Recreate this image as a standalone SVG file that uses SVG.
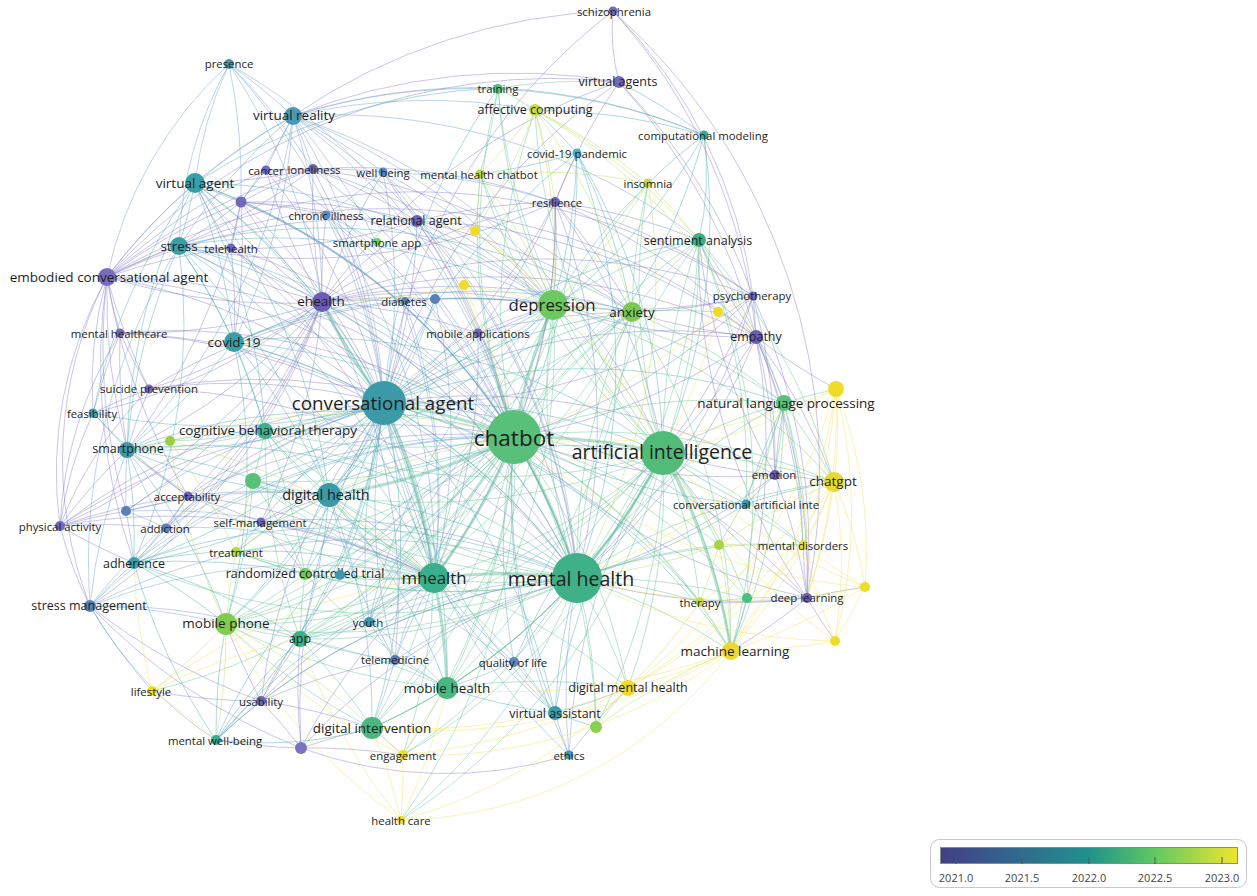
<svg xmlns="http://www.w3.org/2000/svg" width="1257" height="896" viewBox="0 0 1257 896">
<style>
.e path{fill:none;stroke-width:1;stroke-opacity:.42}
.p path{stroke:#8078c4}
.b path{stroke:#6a98c8}
.t path{stroke:#40a8b0}
.g path{stroke:#5cc08c}
.y path{stroke:#b8dc50}
.Y path{stroke:#f0e050}
.h path{stroke:#50b890;stroke-width:3;stroke-opacity:.42}
text{font-family:"Open Sans","Liberation Sans",sans-serif;fill:#1e1e1e;text-anchor:middle;dominant-baseline:central}
.s11{font-size:11.4px}.s12{font-size:12.5px}.s13{font-size:13.5px}.s14{font-size:14.5px}.s16{font-size:16.8px}.s18{font-size:19.5px}.s22{font-size:22.5px}
.lg{font-size:11px;fill:#444}
</style>
<defs>
<linearGradient id="vir" x1="0" y1="0" x2="1" y2="0">
<stop offset="0" stop-color="#433e85"/><stop offset="0.25" stop-color="#31688e"/><stop offset="0.5" stop-color="#21918c"/><stop offset="0.72" stop-color="#5ec962"/><stop offset="1" stop-color="#f0e530"/>
</linearGradient>
</defs>
<rect width="1257" height="896" fill="#fff"/>
<g id="connectors">
<g class="e p">
<path d="M619 82 A200 200 0 0 1 613 11"/><path d="M613 11 A500 500 0 0 1 753 296"/><path d="M613 11 A560 560 0 0 1 756 337"/><path d="M613 11 A620 620 0 0 1 807 598"/><path d="M384 403 A600 600 0 0 1 613 11"/><path d="M293 116 A600 600 0 0 1 613 11"/><path d="M107 277 A600 600 0 0 1 619 82"/><path d="M293 116 A600 600 0 0 1 619 82"/><path d="M384 403 A600 600 0 0 1 619 82"/><path d="M619 82 A600 600 0 0 1 753 296"/><path d="M619 82 A600 600 0 0 1 756 337"/><path d="M322 302 A600 600 0 0 1 619 82"/><path d="M555 202 A600 600 0 0 1 619 82"/>
<path d="M322 302 A600 600 0 0 1 241 202"/><path d="M322 302 A600 600 0 0 1 231 248"/><path d="M322 302 A600 600 0 0 1 313 169"/><path d="M322 302 A600 600 0 0 1 266 170"/><path d="M322 302 A600 600 0 0 1 326 215"/><path d="M322 302 A600 600 0 0 1 383 172"/><path d="M322 302 A600 600 0 0 1 417 221"/><path d="M322 302 A600 600 0 0 1 405 301"/><path d="M322 302 A600 600 0 0 1 435 299"/><path d="M322 302 A600 600 0 0 1 234 342"/><path d="M322 302 A600 600 0 0 1 127 450"/><path d="M322 302 A600 600 0 0 1 261 522"/><path d="M322 302 A600 600 0 0 1 188 496"/><path d="M322 302 A600 600 0 0 1 60 526"/><path d="M322 302 A600 600 0 0 1 90 606"/><path d="M322 302 A600 600 0 0 1 134 563"/><path d="M322 302 A600 600 0 0 1 478 333"/><path d="M322 302 A600 600 0 0 1 126 511"/><path d="M322 302 A600 600 0 0 1 395 660"/><path d="M322 302 A600 600 0 0 1 107 277"/><path d="M322 302 A600 600 0 0 1 179 246"/><path d="M322 302 A600 600 0 0 1 195 183"/><path d="M322 302 A600 600 0 0 1 120 333"/><path d="M322 302 A600 600 0 0 1 149 389"/><path d="M322 302 A600 600 0 0 1 93 413"/><path d="M322 302 A600 600 0 0 1 166 528"/><path d="M322 302 A600 600 0 0 1 753 296"/><path d="M322 302 A600 600 0 0 1 756 337"/><path d="M322 302 A600 600 0 0 1 555 202"/><path d="M322 302 A600 600 0 0 1 553 305"/><path d="M322 302 A600 600 0 0 1 632 312"/><path d="M322 302 A600 600 0 0 1 514 437"/><path d="M322 302 A600 600 0 0 1 577 578"/><path d="M322 302 A600 600 0 0 1 434 578"/>
<path d="M107 277 A600 600 0 0 1 195 183"/><path d="M107 277 A600 600 0 0 1 179 246"/><path d="M120 333 A400 400 0 0 1 107 277"/><path d="M149 389 A600 600 0 0 1 107 277"/><path d="M93 413 A400 400 0 0 1 107 277"/><path d="M127 450 A600 600 0 0 1 107 277"/><path d="M60 526 A400 400 0 0 1 107 277"/><path d="M90 606 A400 400 0 0 1 107 277"/><path d="M134 563 A600 600 0 0 1 107 277"/><path d="M126 511 A600 600 0 0 1 107 277"/><path d="M188 496 A600 600 0 0 1 107 277"/><path d="M107 277 A600 600 0 0 1 241 202"/><path d="M107 277 A600 600 0 0 1 231 248"/><path d="M107 277 A600 600 0 0 1 417 221"/><path d="M107 277 A600 600 0 0 1 313 169"/><path d="M107 277 A600 600 0 0 1 266 170"/><path d="M107 277 A600 600 0 0 1 384 403"/><path d="M107 277 A600 600 0 0 1 514 437"/><path d="M107 277 A600 600 0 0 1 756 337"/><path d="M107 277 A600 600 0 0 1 753 296"/><path d="M107 277 A600 600 0 0 1 577 578"/>
<path d="M241 202 A600 600 0 0 1 266 170"/><path d="M241 202 A600 600 0 0 1 313 169"/><path d="M241 202 A600 600 0 0 1 231 248"/><path d="M241 202 A600 600 0 0 1 179 246"/><path d="M241 202 A600 600 0 0 1 417 221"/><path d="M241 202 A600 600 0 0 1 326 215"/><path d="M241 202 A600 600 0 0 1 127 450"/><path d="M241 202 A600 600 0 0 1 195 183"/><path d="M241 202 A600 600 0 0 1 384 403"/><path d="M241 202 A600 600 0 0 1 514 437"/><path d="M241 202 A600 600 0 0 1 553 305"/><path d="M241 202 A600 600 0 0 1 234 342"/><path d="M241 202 A600 600 0 0 1 577 578"/>
<path d="M313 169 A600 600 0 0 1 417 221"/><path d="M313 169 A600 600 0 0 1 383 172"/><path d="M313 169 A600 600 0 0 1 266 170"/><path d="M313 169 A600 600 0 0 1 553 305"/><path d="M313 169 A600 600 0 0 1 555 202"/><path d="M313 169 A600 600 0 0 1 179 246"/><path d="M313 169 A600 600 0 0 1 195 183"/><path d="M313 169 A600 600 0 0 1 384 403"/><path d="M313 169 A600 600 0 0 1 514 437"/><path d="M313 169 A600 600 0 0 1 632 312"/>
<path d="M417 221 A600 600 0 0 1 383 172"/><path d="M417 221 A600 600 0 0 1 553 305"/><path d="M417 221 A600 600 0 0 1 384 403"/><path d="M417 221 A600 600 0 0 1 514 437"/><path d="M417 221 A600 600 0 0 1 756 337"/><path d="M417 221 A600 600 0 0 1 555 202"/><path d="M417 221 A600 600 0 0 1 632 312"/><path d="M417 221 A600 600 0 0 1 478 333"/><path d="M417 221 A600 600 0 0 1 179 246"/><path d="M417 221 A600 600 0 0 1 577 578"/>
<path d="M555 202 A600 600 0 0 1 553 305"/><path d="M555 202 A600 600 0 0 1 632 312"/><path d="M555 202 A600 600 0 0 1 577 153"/><path d="M555 202 A600 600 0 0 1 699 240"/><path d="M555 202 A600 600 0 0 1 756 337"/><path d="M555 202 A600 600 0 0 1 478 333"/><path d="M555 202 A600 600 0 0 1 179 246"/><path d="M555 202 A600 600 0 0 1 384 403"/><path d="M555 202 A600 600 0 0 1 514 437"/><path d="M555 202 A600 600 0 0 1 577 578"/><path d="M555 202 A600 600 0 0 1 663 453"/><path d="M555 202 A600 600 0 0 1 753 296"/><path d="M555 202 A600 600 0 0 1 434 578"/>
<path d="M753 296 A600 600 0 0 1 756 337"/><path d="M756 337 A600 600 0 0 1 807 598"/><path d="M756 337 A600 600 0 0 1 775 475"/><path d="M756 337 A600 600 0 0 1 784 403"/><path d="M756 337 A600 600 0 0 1 834 482"/><path d="M756 337 A600 600 0 0 1 663 453"/><path d="M756 337 A600 600 0 0 1 514 437"/><path d="M756 337 A600 600 0 0 1 577 578"/><path d="M384 403 A600 600 0 0 1 756 337"/><path d="M756 337 A600 600 0 0 1 553 305"/><path d="M756 337 A600 600 0 0 1 632 312"/><path d="M756 337 A600 600 0 0 1 699 240"/><path d="M836 389 A600 600 0 0 1 756 337"/><path d="M756 337 A600 600 0 0 1 803 545"/><path d="M756 337 A600 600 0 0 1 731 651"/>
<path d="M753 296 A600 600 0 0 1 807 598"/><path d="M753 296 A600 600 0 0 1 775 475"/><path d="M753 296 A600 600 0 0 1 663 453"/><path d="M753 296 A600 600 0 0 1 514 437"/><path d="M753 296 A600 600 0 0 1 553 305"/><path d="M753 296 A600 600 0 0 1 632 312"/><path d="M753 296 A600 600 0 0 1 577 578"/><path d="M753 296 A600 600 0 0 1 384 403"/>
<path d="M775 475 A600 600 0 0 1 784 403"/><path d="M775 475 A600 600 0 0 1 807 598"/><path d="M775 475 A600 600 0 0 1 663 453"/><path d="M775 475 A600 600 0 0 1 514 437"/><path d="M775 475 A600 600 0 0 1 577 578"/><path d="M775 475 A600 600 0 0 1 834 482"/><path d="M775 475 A600 600 0 0 1 699 240"/><path d="M384 403 A600 600 0 0 1 775 475"/>
<path d="M807 598 A600 600 0 0 1 731 651"/><path d="M807 598 A600 600 0 0 1 803 545"/><path d="M807 598 A600 600 0 0 1 865 587"/><path d="M835 641 A600 600 0 0 1 807 598"/><path d="M807 598 A600 600 0 0 1 700 602"/><path d="M807 598 A600 600 0 0 1 663 453"/><path d="M807 598 A600 600 0 0 1 514 437"/><path d="M807 598 A600 600 0 0 1 577 578"/><path d="M384 403 A600 600 0 0 1 807 598"/><path d="M807 598 A600 600 0 0 1 699 240"/>
<path d="M60 526 A600 600 0 0 1 127 450"/><path d="M134 563 A600 600 0 0 1 60 526"/><path d="M60 526 A600 600 0 0 1 166 528"/><path d="M60 526 A600 600 0 0 1 188 496"/><path d="M60 526 A600 600 0 0 1 126 511"/><path d="M60 526 A400 400 0 0 1 93 413"/><path d="M90 606 A400 400 0 0 1 60 526"/><path d="M60 526 A400 400 0 0 1 120 333"/><path d="M60 526 A600 600 0 0 1 434 578"/><path d="M60 526 A600 600 0 0 1 384 403"/><path d="M60 526 A400 400 0 0 1 149 389"/><path d="M60 526 A600 600 0 0 1 514 437"/>
<path d="M188 496 A600 600 0 0 1 127 450"/><path d="M188 496 A600 600 0 0 1 166 528"/><path d="M188 496 A600 600 0 0 1 134 563"/><path d="M188 496 A600 600 0 0 1 261 522"/><path d="M188 496 A600 600 0 0 1 126 511"/><path d="M188 496 A600 600 0 0 1 93 413"/><path d="M188 496 A600 600 0 0 1 434 578"/><path d="M188 496 A600 600 0 0 1 384 403"/><path d="M188 496 A600 600 0 0 1 329 495"/><path d="M188 496 A600 600 0 0 1 514 437"/>
<path d="M261 522 A600 600 0 0 1 329 495"/><path d="M261 522 A600 600 0 0 1 434 578"/><path d="M261 522 A600 600 0 0 1 384 403"/><path d="M261 522 A600 600 0 0 1 514 437"/><path d="M261 522 A600 600 0 0 1 236 552"/><path d="M261 522 A600 600 0 0 1 305 574"/><path d="M261 522 A600 600 0 0 1 577 578"/>
<path d="M261 701 A600 600 0 0 1 226 624"/><path d="M261 701 A600 600 0 0 1 300 639"/><path d="M261 701 A600 600 0 0 1 372 728"/><path d="M216 740 A600 600 0 0 1 261 701"/><path d="M261 701 A600 600 0 0 1 90 606"/><path d="M261 701 A600 600 0 0 1 152 691"/><path d="M261 701 A600 600 0 0 1 301 748"/><path d="M261 701 A600 600 0 0 1 395 660"/><path d="M261 701 A600 600 0 0 1 434 578"/><path d="M261 701 A600 600 0 0 1 384 403"/><path d="M261 701 A600 600 0 0 1 514 437"/><path d="M261 701 A600 600 0 0 1 577 578"/>
<path d="M301 748 A600 600 0 0 1 372 728"/><path d="M301 748 A600 600 0 0 1 216 740"/><path d="M569 755 A420 420 0 0 1 301 748"/><path d="M301 748 A600 600 0 0 1 403 755"/><path d="M301 748 A600 600 0 0 1 434 578"/><path d="M301 748 A600 600 0 0 1 577 578"/><path d="M301 748 A600 600 0 0 1 90 606"/><path d="M301 748 A600 600 0 0 1 300 639"/><path d="M301 748 A600 600 0 0 1 384 403"/>
<path d="M478 333 A600 600 0 0 1 553 305"/><path d="M478 333 A600 600 0 0 1 514 437"/><path d="M478 333 A600 600 0 0 1 384 403"/><path d="M478 333 A600 600 0 0 1 577 578"/><path d="M478 333 A600 600 0 0 1 632 312"/><path d="M478 333 A600 600 0 0 1 434 578"/>
<path d="M231 248 A600 600 0 0 1 179 246"/><path d="M231 248 A600 600 0 0 1 195 183"/><path d="M231 248 A600 600 0 0 1 234 342"/><path d="M231 248 A600 600 0 0 1 384 403"/><path d="M231 248 A600 600 0 0 1 514 437"/><path d="M231 248 A600 600 0 0 1 434 578"/>
<path d="M266 170 A600 600 0 0 1 293 116"/><path d="M266 170 A600 600 0 0 1 313 169"/><path d="M266 170 A600 600 0 0 1 384 403"/><path d="M266 170 A600 600 0 0 1 514 437"/>
<path d="M149 389 A600 600 0 0 1 120 333"/><path d="M127 450 A600 600 0 0 1 120 333"/><path d="M93 413 A600 600 0 0 1 120 333"/><path d="M120 333 A600 600 0 0 1 384 403"/><path d="M120 333 A600 600 0 0 1 514 437"/><path d="M120 333 A600 600 0 0 1 577 578"/>
<path d="M127 450 A600 600 0 0 1 149 389"/><path d="M93 413 A600 600 0 0 1 149 389"/><path d="M149 389 A600 600 0 0 1 384 403"/><path d="M149 389 A600 600 0 0 1 514 437"/><path d="M149 389 A600 600 0 0 1 553 305"/><path d="M149 389 A600 600 0 0 1 577 578"/>
</g>
<g class="e b">
<path d="M195 183 A400 400 0 0 1 229 64"/><path d="M179 246 A400 400 0 0 1 229 64"/><path d="M107 277 A400 400 0 0 1 229 64"/><path d="M229 64 A600 600 0 0 1 293 116"/><path d="M229 64 A600 600 0 0 1 384 403"/><path d="M229 64 A600 600 0 0 1 313 169"/><path d="M229 64 A600 600 0 0 1 322 302"/><path d="M229 64 A600 600 0 0 1 514 437"/><path d="M229 64 A600 600 0 0 1 241 202"/>
<path d="M195 183 A600 600 0 0 1 293 116"/><path d="M179 246 A600 600 0 0 1 293 116"/><path d="M107 277 A600 600 0 0 1 293 116"/><path d="M293 116 A600 600 0 0 1 322 302"/><path d="M293 116 A600 600 0 0 1 313 169"/><path d="M293 116 A600 600 0 0 1 234 342"/><path d="M293 116 A600 600 0 0 1 127 450"/><path d="M293 116 A600 600 0 0 1 498 88"/><path d="M293 116 A600 600 0 0 1 535 110"/><path d="M293 116 A600 600 0 0 1 383 172"/><path d="M293 116 A600 600 0 0 1 553 305"/><path d="M293 116 A600 600 0 0 1 434 578"/><path d="M293 116 A600 600 0 0 1 384 403"/><path d="M293 116 A600 600 0 0 1 514 437"/><path d="M293 116 A600 600 0 0 1 577 578"/><path d="M293 116 A600 600 0 0 1 663 453"/><path d="M293 116 A600 600 0 0 1 241 202"/><path d="M293 116 A600 600 0 0 1 699 240"/><path d="M293 116 A600 600 0 0 1 704 135"/>
<path d="M383 172 A600 600 0 0 1 326 215"/><path d="M383 172 A600 600 0 0 1 553 305"/><path d="M383 172 A600 600 0 0 1 384 403"/><path d="M383 172 A600 600 0 0 1 514 437"/><path d="M383 172 A600 600 0 0 1 577 578"/><path d="M383 172 A600 600 0 0 1 555 202"/>
<path d="M326 215 A600 600 0 0 1 405 301"/><path d="M326 215 A600 600 0 0 1 384 403"/><path d="M326 215 A600 600 0 0 1 514 437"/><path d="M326 215 A600 600 0 0 1 377 242"/><path d="M326 215 A600 600 0 0 1 434 578"/>
<path d="M405 301 A600 600 0 0 1 384 403"/><path d="M405 301 A600 600 0 0 1 514 437"/><path d="M435 299 A600 600 0 0 1 384 403"/><path d="M435 299 A600 600 0 0 1 514 437"/><path d="M435 299 A600 600 0 0 1 553 305"/><path d="M435 299 A600 600 0 0 1 434 578"/><path d="M435 299 A600 600 0 0 1 329 495"/><path d="M405 301 A600 600 0 0 1 434 578"/>
<path d="M126 511 A600 600 0 0 1 127 450"/><path d="M126 511 A600 600 0 0 1 134 563"/><path d="M126 511 A600 600 0 0 1 166 528"/><path d="M126 511 A600 600 0 0 1 384 403"/><path d="M126 511 A600 600 0 0 1 434 578"/><path d="M126 511 A600 600 0 0 1 329 495"/>
<path d="M166 528 A600 600 0 0 1 127 450"/><path d="M166 528 A600 600 0 0 1 134 563"/><path d="M166 528 A600 600 0 0 1 384 403"/><path d="M166 528 A600 600 0 0 1 514 437"/><path d="M166 528 A600 600 0 0 1 434 578"/>
<path d="M90 606 A600 600 0 0 1 134 563"/><path d="M90 606 A600 600 0 0 1 127 450"/><path d="M152 691 A600 600 0 0 1 90 606"/><path d="M216 740 A400 400 0 0 1 90 606"/><path d="M90 606 A600 600 0 0 1 226 624"/><path d="M90 606 A600 600 0 0 1 384 403"/><path d="M90 606 A600 600 0 0 1 514 437"/><path d="M90 606 A600 600 0 0 1 434 578"/><path d="M90 606 A600 600 0 0 1 577 578"/><path d="M90 606 A600 600 0 0 1 179 246"/><path d="M90 606 A600 600 0 0 1 300 639"/>
<path d="M395 660 A600 600 0 0 1 434 578"/><path d="M395 660 A600 600 0 0 1 447 688"/><path d="M395 660 A600 600 0 0 1 384 403"/><path d="M395 660 A600 600 0 0 1 514 437"/><path d="M395 660 A600 600 0 0 1 577 578"/><path d="M395 660 A600 600 0 0 1 300 639"/><path d="M395 660 A600 600 0 0 1 372 728"/><path d="M395 660 A600 600 0 0 1 369 622"/><path d="M395 660 A600 600 0 0 1 329 495"/>
<path d="M514 662 A600 600 0 0 1 577 578"/><path d="M514 662 A600 600 0 0 1 447 688"/><path d="M514 662 A600 600 0 0 1 514 437"/><path d="M514 662 A600 600 0 0 1 663 453"/><path d="M514 662 A600 600 0 0 1 434 578"/><path d="M514 662 A600 600 0 0 1 329 495"/><path d="M514 662 A600 600 0 0 1 555 713"/>
<path d="M369 622 A600 600 0 0 1 434 578"/><path d="M369 622 A600 600 0 0 1 514 437"/><path d="M369 622 A600 600 0 0 1 577 578"/><path d="M369 622 A600 600 0 0 1 300 639"/><path d="M369 622 A600 600 0 0 1 447 688"/><path d="M369 622 A600 600 0 0 1 384 403"/><path d="M369 622 A600 600 0 0 1 553 305"/><path d="M369 622 A600 600 0 0 1 632 312"/>
<path d="M569 755 A600 600 0 0 1 555 713"/><path d="M569 755 A600 600 0 0 1 577 578"/><path d="M569 755 A600 600 0 0 1 514 437"/><path d="M569 755 A600 600 0 0 1 663 453"/><path d="M569 755 A600 600 0 0 1 384 403"/><path d="M569 755 A600 600 0 0 1 628 688"/>
</g>
<g class="e t">
<path d="M195 183 A600 600 0 0 1 179 246"/><path d="M195 183 A600 600 0 0 1 234 342"/><path d="M127 450 A600 600 0 0 1 195 183"/><path d="M93 413 A600 600 0 0 1 195 183"/><path d="M195 183 A600 600 0 0 1 265 431"/><path d="M195 183 A600 600 0 0 1 329 495"/><path d="M195 183 A600 600 0 0 1 384 403"/><path d="M195 183 A600 600 0 0 1 514 437"/><path d="M195 183 A600 600 0 0 1 577 578"/><path d="M195 183 A600 600 0 0 1 553 305"/><path d="M195 183 A600 600 0 0 1 434 578"/><path d="M195 183 A600 600 0 0 1 498 88"/>
<path d="M179 246 A600 600 0 0 1 234 342"/><path d="M127 450 A600 600 0 0 1 179 246"/><path d="M179 246 A600 600 0 0 1 329 495"/><path d="M179 246 A600 600 0 0 1 384 403"/><path d="M179 246 A600 600 0 0 1 514 437"/><path d="M179 246 A600 600 0 0 1 577 578"/><path d="M179 246 A600 600 0 0 1 434 578"/><path d="M179 246 A600 600 0 0 1 632 312"/><path d="M179 246 A600 600 0 0 1 553 305"/><path d="M179 246 A600 600 0 0 1 265 431"/><path d="M179 246 A600 600 0 0 1 134 563"/>
<path d="M234 342 A600 600 0 0 1 384 403"/><path d="M234 342 A600 600 0 0 1 514 437"/><path d="M234 342 A600 600 0 0 1 577 578"/><path d="M234 342 A600 600 0 0 1 434 578"/><path d="M234 342 A600 600 0 0 1 329 495"/><path d="M234 342 A600 600 0 0 1 553 305"/><path d="M234 342 A600 600 0 0 1 632 312"/><path d="M234 342 A600 600 0 0 1 127 450"/><path d="M234 342 A600 600 0 0 1 265 431"/><path d="M234 342 A600 600 0 0 1 663 453"/><path d="M234 342 A600 600 0 0 1 226 624"/>
<path d="M384 403 A600 600 0 0 1 329 495"/><path d="M384 403 A600 600 0 0 1 577 578"/><path d="M384 403 A600 600 0 0 1 663 453"/><path d="M384 403 A600 600 0 0 1 553 305"/><path d="M384 403 A600 600 0 0 1 632 312"/><path d="M384 403 A600 600 0 0 1 265 431"/><path d="M384 403 A600 600 0 0 1 127 450"/><path d="M384 403 A600 600 0 0 1 134 563"/><path d="M384 403 A600 600 0 0 1 93 413"/><path d="M384 403 A600 600 0 0 1 447 688"/><path d="M384 403 A600 600 0 0 1 372 728"/><path d="M384 403 A600 600 0 0 1 300 639"/><path d="M384 403 A600 600 0 0 1 226 624"/><path d="M384 403 A600 600 0 0 1 305 574"/><path d="M384 403 A600 600 0 0 1 340 575"/><path d="M384 403 A600 600 0 0 1 216 740"/><path d="M384 403 A600 600 0 0 1 555 713"/><path d="M384 403 A600 600 0 0 1 784 403"/><path d="M384 403 A600 600 0 0 1 699 240"/><path d="M384 403 A600 600 0 0 1 700 602"/><path d="M384 403 A600 600 0 0 1 731 651"/><path d="M384 403 A600 600 0 0 1 253 481"/><path d="M384 403 A600 600 0 0 1 236 552"/><path d="M384 403 A600 600 0 0 1 498 88"/><path d="M384 403 A600 600 0 0 1 577 153"/>
<path d="M329 495 A600 600 0 0 1 434 578"/><path d="M329 495 A600 600 0 0 1 577 578"/><path d="M329 495 A600 600 0 0 1 663 453"/><path d="M329 495 A600 600 0 0 1 265 431"/><path d="M329 495 A600 600 0 0 1 447 688"/><path d="M329 495 A600 600 0 0 1 372 728"/><path d="M329 495 A600 600 0 0 1 300 639"/><path d="M329 495 A600 600 0 0 1 305 574"/><path d="M329 495 A600 600 0 0 1 253 481"/><path d="M329 495 A600 600 0 0 1 553 305"/><path d="M329 495 A600 600 0 0 1 632 312"/><path d="M329 495 A600 600 0 0 1 127 450"/><path d="M329 495 A600 600 0 0 1 134 563"/><path d="M329 495 A600 600 0 0 1 226 624"/>
<path d="M127 450 A600 600 0 0 1 134 563"/><path d="M93 413 A600 600 0 0 1 127 450"/><path d="M127 450 A600 600 0 0 1 265 431"/><path d="M127 450 A600 600 0 0 1 434 578"/><path d="M127 450 A600 600 0 0 1 514 437"/><path d="M127 450 A600 600 0 0 1 226 624"/><path d="M127 450 A600 600 0 0 1 577 578"/>
<path d="M134 563 A600 600 0 0 1 434 578"/><path d="M134 563 A600 600 0 0 1 514 437"/><path d="M134 563 A600 600 0 0 1 226 624"/><path d="M216 740 A600 600 0 0 1 134 563"/><path d="M134 563 A600 600 0 0 1 300 639"/><path d="M134 563 A600 600 0 0 1 305 574"/><path d="M134 563 A600 600 0 0 1 577 578"/>
<path d="M746 504 A600 600 0 0 1 663 453"/><path d="M746 504 A600 600 0 0 1 514 437"/><path d="M746 504 A600 600 0 0 1 577 578"/><path d="M746 504 A600 600 0 0 1 784 403"/><path d="M746 504 A600 600 0 0 1 775 475"/><path d="M746 504 A600 600 0 0 1 834 482"/>
<path d="M619 82 A600 600 0 0 1 704 135"/><path d="M704 135 A300 300 0 0 1 699 240"/><path d="M648 183 A600 600 0 0 1 704 135"/><path d="M535 110 A600 600 0 0 1 704 135"/><path d="M498 88 A600 600 0 0 1 704 135"/><path d="M704 135 A600 600 0 0 1 384 403"/><path d="M704 135 A600 600 0 0 1 514 437"/><path d="M704 135 A600 600 0 0 1 663 453"/>
<path d="M577 153 A600 600 0 0 1 553 305"/><path d="M577 153 A600 600 0 0 1 632 312"/><path d="M577 153 A600 600 0 0 1 514 437"/><path d="M577 153 A600 600 0 0 1 663 453"/><path d="M577 153 A600 600 0 0 1 577 578"/><path d="M535 110 A600 600 0 0 1 577 153"/><path d="M577 153 A600 600 0 0 1 480 174"/>
<path d="M555 713 A600 600 0 0 1 577 578"/><path d="M555 713 A600 600 0 0 1 514 437"/><path d="M555 713 A600 600 0 0 1 663 453"/><path d="M555 713 A600 600 0 0 1 447 688"/><path d="M628 688 A600 600 0 0 1 555 713"/><path d="M596 727 A600 600 0 0 1 555 713"/><path d="M555 713 A600 600 0 0 1 384 403"/><path d="M555 713 A600 600 0 0 1 434 578"/>
<path d="M216 740 A600 600 0 0 1 226 624"/><path d="M216 740 A600 600 0 0 1 300 639"/><path d="M372 728 A400 400 0 0 1 216 740"/><path d="M216 740 A600 600 0 0 1 434 578"/><path d="M216 740 A600 600 0 0 1 514 437"/><path d="M216 740 A600 600 0 0 1 577 578"/>
</g>
<g class="e g">
<path d="M514 437 A600 600 0 0 1 632 312"/><path d="M514 437 A600 600 0 0 1 447 688"/><path d="M514 437 A600 600 0 0 1 372 728"/><path d="M514 437 A600 600 0 0 1 300 639"/><path d="M514 437 A600 600 0 0 1 226 624"/><path d="M514 437 A600 600 0 0 1 784 403"/><path d="M514 437 A600 600 0 0 1 699 240"/><path d="M514 437 A600 600 0 0 1 747 598"/><path d="M514 437 A600 600 0 0 1 700 602"/><path d="M514 437 A600 600 0 0 1 305 574"/><path d="M514 437 A600 600 0 0 1 253 481"/><path d="M514 437 A600 600 0 0 1 265 431"/><path d="M514 437 A600 600 0 0 1 236 552"/><path d="M514 437 A600 600 0 0 1 403 755"/><path d="M514 437 A600 600 0 0 1 596 727"/><path d="M514 437 A600 600 0 0 1 628 688"/><path d="M514 437 A600 600 0 0 1 731 651"/><path d="M514 437 A600 600 0 0 1 834 482"/><path d="M514 437 A600 600 0 0 1 719 545"/><path d="M514 437 A600 600 0 0 1 803 545"/><path d="M514 437 A600 600 0 0 1 498 88"/><path d="M514 437 A600 600 0 0 1 480 174"/><path d="M514 437 A600 600 0 0 1 535 110"/><path d="M514 437 A600 600 0 0 1 648 183"/><path d="M514 437 A600 600 0 0 1 369 622"/><path d="M514 437 A600 600 0 0 1 340 575"/><path d="M514 437 A600 600 0 0 1 401 820"/><path d="M514 437 A600 600 0 0 1 152 691"/>
<path d="M663 453 A600 600 0 0 1 553 305"/><path d="M663 453 A600 600 0 0 1 632 312"/><path d="M663 453 A600 600 0 0 1 784 403"/><path d="M663 453 A600 600 0 0 1 699 240"/><path d="M663 453 A600 600 0 0 1 434 578"/><path d="M663 453 A600 600 0 0 1 329 495"/><path d="M663 453 A600 600 0 0 1 447 688"/><path d="M663 453 A600 600 0 0 1 372 728"/><path d="M663 453 A600 600 0 0 1 300 639"/><path d="M663 453 A600 600 0 0 1 747 598"/><path d="M663 453 A600 600 0 0 1 700 602"/><path d="M663 453 A600 600 0 0 1 719 545"/><path d="M663 453 A600 600 0 0 1 803 545"/><path d="M663 453 A600 600 0 0 1 834 482"/><path d="M663 453 A600 600 0 0 1 628 688"/><path d="M663 453 A600 600 0 0 1 596 727"/><path d="M663 453 A600 600 0 0 1 265 431"/><path d="M663 453 A600 600 0 0 1 226 624"/><path d="M663 453 A600 600 0 0 1 403 755"/><path d="M663 453 A600 600 0 0 1 648 183"/><path d="M663 453 A600 600 0 0 1 535 110"/><path d="M663 453 A600 600 0 0 1 480 174"/><path d="M663 453 A600 600 0 0 1 498 88"/><path d="M663 453 A600 600 0 0 1 401 820"/>
<path d="M577 578 A600 600 0 0 1 553 305"/><path d="M577 578 A600 600 0 0 1 632 312"/><path d="M577 578 A600 600 0 0 1 329 495"/><path d="M577 578 A600 600 0 0 1 447 688"/><path d="M577 578 A600 600 0 0 1 372 728"/><path d="M577 578 A600 600 0 0 1 300 639"/><path d="M577 578 A600 600 0 0 1 226 624"/><path d="M577 578 A600 600 0 0 1 265 431"/><path d="M577 578 A600 600 0 0 1 305 574"/><path d="M577 578 A600 600 0 0 1 253 481"/><path d="M577 578 A600 600 0 0 1 747 598"/><path d="M577 578 A600 600 0 0 1 700 602"/><path d="M577 578 A600 600 0 0 1 719 545"/><path d="M577 578 A600 600 0 0 1 784 403"/><path d="M577 578 A600 600 0 0 1 699 240"/><path d="M577 578 A600 600 0 0 1 596 727"/><path d="M577 578 A600 600 0 0 1 628 688"/><path d="M577 578 A600 600 0 0 1 731 651"/><path d="M577 578 A600 600 0 0 1 834 482"/><path d="M577 578 A600 600 0 0 1 803 545"/><path d="M577 578 A600 600 0 0 1 236 552"/><path d="M577 578 A600 600 0 0 1 403 755"/><path d="M577 578 A600 600 0 0 1 401 820"/><path d="M577 578 A600 600 0 0 1 134 563"/><path d="M577 578 A600 600 0 0 1 127 450"/>
<path d="M434 578 A600 600 0 0 1 372 728"/><path d="M434 578 A600 600 0 0 1 300 639"/><path d="M434 578 A600 600 0 0 1 226 624"/><path d="M434 578 A600 600 0 0 1 305 574"/><path d="M434 578 A600 600 0 0 1 340 575"/><path d="M434 578 A600 600 0 0 1 329 495"/><path d="M434 578 A600 600 0 0 1 253 481"/><path d="M434 578 A600 600 0 0 1 265 431"/><path d="M434 578 A600 600 0 0 1 553 305"/><path d="M434 578 A600 600 0 0 1 632 312"/><path d="M434 578 A600 600 0 0 1 236 552"/><path d="M434 578 A600 600 0 0 1 403 755"/><path d="M434 578 A600 600 0 0 1 555 713"/><path d="M434 578 A600 600 0 0 1 628 688"/>
<path d="M553 305 A600 600 0 0 1 632 312"/><path d="M553 305 A600 600 0 0 1 265 431"/><path d="M553 305 A600 600 0 0 1 699 240"/><path d="M553 305 A600 600 0 0 1 480 174"/><path d="M553 305 A600 600 0 0 1 498 88"/><path d="M553 305 A600 600 0 0 1 648 183"/><path d="M553 305 A600 600 0 0 1 226 624"/><path d="M553 305 A600 600 0 0 1 447 688"/><path d="M553 305 A600 600 0 0 1 300 639"/><path d="M553 305 A600 600 0 0 1 372 728"/><path d="M553 305 A600 600 0 0 1 784 403"/><path d="M553 305 A600 600 0 0 1 731 651"/><path d="M553 305 A600 600 0 0 1 834 482"/>
<path d="M632 312 A600 600 0 0 1 265 431"/><path d="M632 312 A600 600 0 0 1 699 240"/><path d="M632 312 A600 600 0 0 1 648 183"/><path d="M632 312 A600 600 0 0 1 447 688"/><path d="M632 312 A600 600 0 0 1 226 624"/><path d="M632 312 A600 600 0 0 1 300 639"/><path d="M632 312 A600 600 0 0 1 784 403"/><path d="M632 312 A600 600 0 0 1 731 651"/><path d="M632 312 A600 600 0 0 1 718 312"/>
<path d="M699 240 A600 600 0 0 1 784 403"/><path d="M699 240 A600 600 0 0 1 731 651"/><path d="M699 240 A600 600 0 0 1 834 482"/><path d="M699 240 A600 600 0 0 1 746 504"/><path d="M699 240 A600 600 0 0 1 663 453"/><path d="M699 240 A600 600 0 0 1 577 578"/>
<path d="M498 88 A600 600 0 0 1 480 174"/><path d="M498 88 A600 600 0 0 1 535 110"/><path d="M498 88 A600 600 0 0 1 619 82"/>
<path d="M300 639 A600 600 0 0 1 226 624"/><path d="M300 639 A600 600 0 0 1 447 688"/><path d="M300 639 A600 600 0 0 1 372 728"/><path d="M300 639 A600 600 0 0 1 305 574"/><path d="M300 639 A600 600 0 0 1 265 431"/><path d="M447 688 A600 600 0 0 1 372 728"/><path d="M447 688 A600 600 0 0 1 226 624"/><path d="M447 688 A600 600 0 0 1 305 574"/><path d="M447 688 A600 600 0 0 1 628 688"/><path d="M372 728 A600 600 0 0 1 226 624"/><path d="M372 728 A600 600 0 0 1 403 755"/>
<path d="M747 598 A600 600 0 0 1 700 602"/><path d="M747 598 A600 600 0 0 1 731 651"/><path d="M747 598 A600 600 0 0 1 807 598"/><path d="M747 598 A600 600 0 0 1 784 403"/>
<path d="M265 431 A600 600 0 0 1 253 481"/><path d="M265 431 A600 600 0 0 1 127 450"/><path d="M265 431 A600 600 0 0 1 170 441"/><path d="M265 431 A600 600 0 0 1 305 574"/><path d="M253 481 A600 600 0 0 1 305 574"/><path d="M253 481 A600 600 0 0 1 226 624"/><path d="M305 574 A600 600 0 0 1 226 624"/><path d="M305 574 A600 600 0 0 1 236 552"/>
<path d="M784 403 A600 600 0 0 1 834 482"/><path d="M784 403 A600 600 0 0 1 836 389"/><path d="M784 403 A600 600 0 0 1 731 651"/><path d="M784 403 A600 600 0 0 1 807 598"/><path d="M784 403 A600 600 0 0 1 775 475"/><path d="M784 403 A600 600 0 0 1 803 545"/><path d="M784 403 A600 600 0 0 1 719 545"/>
</g>
<g class="e y">
<path d="M226 624 A600 600 0 0 1 152 691"/><path d="M226 624 A600 600 0 0 1 236 552"/><path d="M226 624 A600 600 0 0 1 170 441"/><path d="M226 624 A600 600 0 0 1 216 740"/><path d="M226 624 A600 600 0 0 1 372 728"/>
<path d="M170 441 A600 600 0 0 1 127 450"/><path d="M170 441 A600 600 0 0 1 236 552"/><path d="M170 441 A600 600 0 0 1 514 437"/><path d="M170 441 A600 600 0 0 1 434 578"/><path d="M236 552 A600 600 0 0 1 514 437"/><path d="M236 552 A600 600 0 0 1 253 481"/>
<path d="M535 110 A600 600 0 0 1 480 174"/><path d="M535 110 A600 600 0 0 1 648 183"/><path d="M535 110 A600 600 0 0 1 555 202"/><path d="M535 110 A600 600 0 0 1 553 305"/><path d="M535 110 A600 600 0 0 1 756 337"/><path d="M535 110 A600 600 0 0 1 475 231"/><path d="M535 110 A600 600 0 0 1 632 312"/><path d="M535 110 A600 600 0 0 1 699 240"/>
<path d="M480 174 A600 600 0 0 1 475 231"/><path d="M480 174 A600 600 0 0 1 553 305"/><path d="M480 174 A600 600 0 0 1 648 183"/><path d="M648 183 A600 600 0 0 1 553 305"/><path d="M648 183 A600 600 0 0 1 699 240"/><path d="M648 183 A600 600 0 0 1 577 578"/>
<path d="M719 545 A600 600 0 0 1 577 578"/><path d="M719 545 A600 600 0 0 1 803 545"/><path d="M719 545 A600 600 0 0 1 700 602"/><path d="M719 545 A600 600 0 0 1 731 651"/><path d="M719 545 A600 600 0 0 1 834 482"/><path d="M700 602 A600 600 0 0 1 731 651"/><path d="M700 602 A600 600 0 0 1 628 688"/><path d="M596 727 A600 600 0 0 1 628 688"/><path d="M596 727 A600 600 0 0 1 731 651"/>
</g>
<g class="e Y">
<path d="M836 389 A400 400 0 0 1 834 482"/><path d="M836 389 A450 450 0 0 1 865 587"/><path d="M836 389 A500 500 0 0 1 835 641"/><path d="M836 389 A600 600 0 0 1 731 651"/><path d="M836 389 A600 600 0 0 1 803 545"/><path d="M836 389 A600 600 0 0 1 807 598"/><path d="M836 389 A600 600 0 0 1 663 453"/><path d="M836 389 A600 600 0 0 1 514 437"/><path d="M836 389 A600 600 0 0 1 577 578"/><path d="M836 389 A600 600 0 0 1 628 688"/>
<path d="M834 482 A400 400 0 0 1 865 587"/><path d="M834 482 A450 450 0 0 1 835 641"/><path d="M834 482 A600 600 0 0 1 731 651"/><path d="M834 482 A600 600 0 0 1 803 545"/><path d="M834 482 A600 600 0 0 1 807 598"/><path d="M834 482 A600 600 0 0 1 628 688"/><path d="M834 482 A600 600 0 0 1 700 602"/>
<path d="M865 587 A600 600 0 0 1 835 641"/><path d="M865 587 A600 600 0 0 1 731 651"/><path d="M865 587 A600 600 0 0 1 803 545"/><path d="M865 587 A600 600 0 0 1 663 453"/><path d="M865 587 A600 600 0 0 1 514 437"/><path d="M865 587 A600 600 0 0 1 577 578"/>
<path d="M835 641 A600 600 0 0 1 731 651"/><path d="M835 641 A600 600 0 0 1 803 545"/><path d="M835 641 A600 600 0 0 1 663 453"/><path d="M835 641 A600 600 0 0 1 577 578"/>
<path d="M731 651 A600 600 0 0 1 628 688"/><path d="M731 651 A600 600 0 0 1 803 545"/><path d="M731 651 A420 420 0 0 1 401 820"/><path d="M731 651 A500 500 0 0 1 403 755"/><path d="M731 651 A600 600 0 0 1 447 688"/><path d="M731 651 A600 600 0 0 1 372 728"/><path d="M803 545 A600 600 0 0 1 628 688"/>
<path d="M628 688 A600 600 0 0 1 403 755"/><path d="M628 688 A500 500 0 0 1 401 820"/><path d="M628 688 A600 600 0 0 1 372 728"/>
<path d="M403 755 A600 600 0 0 1 401 820"/><path d="M372 728 A600 600 0 0 1 401 820"/><path d="M447 688 A600 600 0 0 1 401 820"/><path d="M401 820 A600 600 0 0 1 226 624"/><path d="M401 820 A600 600 0 0 1 300 639"/>
<path d="M403 755 A600 600 0 0 1 372 728"/><path d="M403 755 A600 600 0 0 1 447 688"/><path d="M403 755 A600 600 0 0 1 226 624"/>
<path d="M152 691 A600 600 0 0 1 216 740"/><path d="M152 691 A600 600 0 0 1 434 578"/><path d="M152 691 A600 600 0 0 1 300 639"/><path d="M152 691 A600 600 0 0 1 134 563"/>
<path d="M475 231 A600 600 0 0 1 553 305"/><path d="M475 231 A600 600 0 0 1 417 221"/><path d="M475 231 A600 600 0 0 1 663 453"/>
<path d="M464 285 A600 600 0 0 1 478 333"/><path d="M464 285 A600 600 0 0 1 553 305"/><path d="M464 285 A600 600 0 0 1 322 302"/><path d="M464 285 A600 600 0 0 1 514 437"/>
<path d="M718 312 A600 600 0 0 1 663 453"/><path d="M718 312 A600 600 0 0 1 753 296"/><path d="M718 312 A600 600 0 0 1 756 337"/><path d="M718 312 A600 600 0 0 1 514 437"/>
</g>
<g class="e h">
<path d="M514 437 A600 600 0 0 1 577 578"/><path d="M514 437 A600 600 0 0 1 663 453"/><path d="M384 403 A600 600 0 0 1 514 437"/><path d="M514 437 A600 600 0 0 1 434 578"/><path d="M514 437 A600 600 0 0 1 329 495"/><path d="M663 453 A600 600 0 0 1 577 578"/><path d="M434 578 A600 600 0 0 1 577 578"/><path d="M384 403 A600 600 0 0 1 322 302"/><path d="M384 403 A600 600 0 0 1 434 578"/><path d="M434 578 A600 600 0 0 1 447 688"/><path d="M663 453 A600 600 0 0 1 731 651"/><path d="M514 437 A600 600 0 0 1 553 305"/>
</g>
</g>
<g id="nodes">
<g id="n-chatbot"><circle cx="514" cy="437" r="27" fill="#58c078"/><text x="514" y="437" class="s22">chatbot</text></g>
<g id="n-mental-health"><circle cx="577" cy="578" r="25" fill="#40b088"/><text x="571" y="578" class="s18">mental health</text></g>
<g id="n-conversational-agent"><circle cx="384" cy="403" r="22" fill="#3a9aa8"/><text x="383" y="403" class="s18" style="font-size:18.8px">conversational agent</text></g>
<g id="n-artificial-intelligence"><circle cx="663" cy="453" r="22" fill="#50bc78"/><text x="662" y="451" class="s18">artificial intelligence</text></g>
<g id="n-depression"><circle cx="553" cy="305" r="15" fill="#6cc860"/><text x="552" y="304" class="s16">depression</text></g>
<g id="n-mhealth"><circle cx="434" cy="578" r="15" fill="#38b08c"/><text x="434" y="577" class="s16">mhealth</text></g>
<g id="n-digital-health"><circle cx="329" cy="495" r="12" fill="#3a9aa8"/><text x="326" y="494" class="s14">digital health</text></g>
<g id="n-mobile-phone"><circle cx="226" cy="624" r="11" fill="#80cc50"/><text x="226" y="623" class="s13">mobile phone</text></g>
<g id="n-mobile-health"><circle cx="447" cy="688" r="11" fill="#48b880"/><text x="447" y="688" class="s13">mobile health</text></g>
<g id="n-digital-intervention"><circle cx="372" cy="728" r="11" fill="#48b880"/><text x="372" y="728" class="s13">digital intervention</text></g>
<g id="n-virtual-agent"><circle cx="195" cy="183" r="10" fill="#3a9ea8"/><text x="195" y="183" class="s13">virtual agent</text></g>
<g id="n-ehealth"><circle cx="322" cy="302" r="10" fill="#6c5cb4"/><text x="321" y="301" class="s13">ehealth</text></g>
<g id="n-covid-19"><circle cx="234" cy="342" r="10" fill="#3aa0a8"/><text x="234" y="342" class="s13">covid-19</text></g>
<g id="n-anxiety"><circle cx="632" cy="312" r="10" fill="#7cc850"/><text x="632" y="312" class="s13">anxiety</text></g>
<g id="n-chatgpt"><circle cx="834" cy="482" r="10" fill="#e8d830"/><text x="833" y="481" class="s13">chatgpt</text></g>
<g id="n-virtual-reality"><circle cx="293" cy="116" r="9" fill="#4a98b4"/><text x="294" y="115" class="s13">virtual reality</text></g>
<g id="n-stress"><circle cx="179" cy="246" r="9" fill="#3a9ea8"/><text x="179" y="246" class="s13">stress</text></g>
<g id="n-embodied-conversational-agent"><circle cx="107" cy="277" r="9" fill="#7a6cbc"/><text x="109" y="277" class="s13">embodied conversational agent</text></g>
<g id="n-machine-learning"><circle cx="731" cy="651" r="9" fill="#ecd830"/><text x="735" y="651" class="s13">machine learning</text></g>
<g id="n-natural-language-processing"><circle cx="784" cy="403" r="8" fill="#58c078"/><text x="786" y="403" class="s13">natural language processing</text></g>
<g id="n-cognitive-behavioral-therapy"><circle cx="265" cy="431" r="8" fill="#3ab090"/><text x="268" y="430" class="s13">cognitive behavioral therapy</text></g>
<g id="n-smartphone"><circle cx="127" cy="450" r="8" fill="#3a9aa8"/><text x="128" y="448" class="s12">smartphone</text></g>
<g id="n-app"><circle cx="300" cy="639" r="8" fill="#38b08c"/><text x="300" y="638" class="s12">app</text></g>
<g id="n-digital-mental-health"><circle cx="628" cy="688" r="8" fill="#f0dc28"/><text x="628" y="687" class="s12">digital mental health</text></g>
<g id="n-u6"><circle cx="836" cy="389" r="8" fill="#f0dc28"/></g>
<g id="n-u8"><circle cx="253" cy="481" r="8" fill="#58c078"/></g>
<g id="n-sentiment-analysis"><circle cx="699" cy="240" r="7" fill="#38b080"/><text x="698" y="240" class="s12">sentiment analysis</text></g>
<g id="n-empathy"><circle cx="756" cy="337" r="7" fill="#6a5cb4"/><text x="756" y="336" class="s12">empathy</text></g>
<g id="n-virtual-assistant"><circle cx="555" cy="713" r="7" fill="#3a9aa8"/><text x="555" y="713" class="s12">virtual assistant</text></g>
<g id="n-virtual-agents"><circle cx="619" cy="82" r="6" fill="#7468b8"/><text x="618" y="81" class="s12">virtual agents</text></g>
<g id="n-affective-computing"><circle cx="535" cy="110" r="6" fill="#c8d840"/><text x="535" y="109" class="s12">affective computing</text></g>
<g id="n-relational-agent"><circle cx="417" cy="221" r="6" fill="#6e60b4"/><text x="416" y="220" class="s12">relational agent</text></g>
<g id="n-adherence"><circle cx="134" cy="563" r="6" fill="#3aa0b0"/><text x="134" y="563" class="s12">adherence</text></g>
<g id="n-randomized-controlled-trial"><circle cx="305" cy="574" r="6" fill="#70c860"/><text x="305" y="573" class="s12">randomized controlled trial</text></g>
<g id="n-stress-management"><circle cx="90" cy="606" r="6" fill="#5a80b8"/><text x="89" y="605" class="s12">stress management</text></g>
<g id="n-u1"><circle cx="241" cy="202" r="5.5" fill="#7068b8"/></g>
<g id="n-u15"><circle cx="596" cy="727" r="6" fill="#88d050"/></g>
<g id="n-u16"><circle cx="301" cy="748" r="6" fill="#7a74c0"/></g>
<g id="n-u11"><circle cx="340" cy="575" r="5" fill="#3a9ab0"/></g>
<g id="n-presence"><circle cx="229" cy="64" r="5" fill="#4a98b0"/><text x="229" y="63" class="s11">presence</text></g>
<g id="n-training"><circle cx="498" cy="89" r="5" fill="#58c080"/><text x="498" y="88" class="s11">training</text></g>
<g id="n-loneliness"><circle cx="313" cy="169" r="5" fill="#7068b8"/><text x="314" y="169" class="s11">loneliness</text></g>
<g id="n-resilience"><circle cx="555" cy="202" r="5" fill="#6e66b8"/><text x="557" y="202" class="s11">resilience</text></g>
<g id="n-u2"><circle cx="475" cy="231" r="5" fill="#f0dc28"/></g>
<g id="n-u3"><circle cx="464" cy="285" r="5" fill="#f0dc28"/></g>
<g id="n-u4"><circle cx="435" cy="299" r="5" fill="#5a80b8"/></g>
<g id="n-u5"><circle cx="718" cy="312" r="5" fill="#ecdc28"/></g>
<g id="n-u7"><circle cx="170" cy="441" r="5" fill="#98d040"/></g>
<g id="n-u9"><circle cx="126" cy="511" r="5" fill="#5a80b8"/></g>
<g id="n-u10"><circle cx="719" cy="545" r="5" fill="#a8d440"/></g>
<g id="n-u12"><circle cx="747" cy="598" r="5" fill="#48c080"/></g>
<g id="n-u13"><circle cx="865" cy="587" r="5" fill="#f0dc28"/></g>
<g id="n-u14"><circle cx="835" cy="641" r="5" fill="#f0dc28"/></g>
<g id="n-emotion"><circle cx="775" cy="475" r="5" fill="#6a5cb4"/><text x="774" y="474" class="s11">emotion</text></g>
<g id="n-physical-activity"><circle cx="60" cy="526" r="5" fill="#7468b8"/><text x="60" y="526" class="s11">physical activity</text></g>
<g id="n-treatment"><circle cx="236" cy="552" r="5" fill="#b8d840"/><text x="236" y="552" class="s11">treatment</text></g>
<g id="n-deep-learning"><circle cx="807" cy="598" r="5" fill="#6a5cb4"/><text x="807" y="597" class="s11">deep learning</text></g>
<g id="n-youth"><circle cx="369" cy="622" r="5" fill="#3a98b0"/><text x="368" y="622" class="s11">youth</text></g>
<g id="n-telemedicine"><circle cx="395" cy="660" r="5" fill="#5a78b8"/><text x="395" y="659" class="s11">telemedicine</text></g>
<g id="n-quality-of-life"><circle cx="514" cy="662" r="5" fill="#5a88b8"/><text x="513" y="662" class="s11">quality of life</text></g>
<g id="n-lifestyle"><circle cx="152" cy="691" r="5" fill="#f0dc28"/><text x="151" y="691" class="s11">lifestyle</text></g>
<g id="n-usability"><circle cx="261" cy="701" r="5" fill="#6e66b8"/><text x="261" y="701" class="s11">usability</text></g>
<g id="n-mental-well-being"><circle cx="216" cy="740" r="5" fill="#38ac90"/><text x="215" y="740" class="s11">mental well-being</text></g>
<g id="n-engagement"><circle cx="403" cy="755" r="5" fill="#f0dc28"/><text x="403" y="755" class="s11">engagement</text></g>
<g id="n-schizophrenia"><circle cx="613" cy="11" r="4.5" fill="#7468b8"/><text x="614" y="11" class="s11">schizophrenia</text></g>
<g id="n-computational-modeling"><circle cx="704" cy="135" r="4.5" fill="#3aa898"/><text x="703" y="135" class="s11">computational modeling</text></g>
<g id="n-covid-19-pandemic"><circle cx="577" cy="153" r="4.5" fill="#48b0c0"/><text x="577" y="153" class="s11">covid-19 pandemic</text></g>
<g id="n-cancer"><circle cx="266" cy="170" r="4.5" fill="#7068b8"/><text x="266" y="170" class="s11">cancer</text></g>
<g id="n-well-being"><circle cx="383" cy="172" r="4.5" fill="#5a88bc"/><text x="383" y="172" class="s11">well being</text></g>
<g id="n-mental-health-chatbot"><circle cx="480" cy="174" r="4.5" fill="#b8d840"/><text x="479" y="174" class="s11">mental health chatbot</text></g>
<g id="n-insomnia"><circle cx="648" cy="183" r="4.5" fill="#c8d840"/><text x="648" y="183" class="s11">insomnia</text></g>
<g id="n-chronic-illness"><circle cx="326" cy="215" r="4.5" fill="#5a88bc"/><text x="326" y="215" class="s11">chronic illness</text></g>
<g id="n-smartphone-app"><circle cx="377" cy="242" r="4" fill="#70cc60"/><text x="377" y="242" class="s11">smartphone app</text></g>
<g id="n-telehealth"><circle cx="231" cy="248" r="4.5" fill="#6e66b8"/><text x="231" y="248" class="s11">telehealth</text></g>
<g id="n-diabetes"><circle cx="405" cy="301" r="4" fill="#5a80b8"/><text x="404" y="301" class="s11">diabetes</text></g>
<g id="n-psychotherapy"><circle cx="753" cy="296" r="4.5" fill="#7464b8"/><text x="752" y="295" class="s11">psychotherapy</text></g>
<g id="n-mental-healthcare"><circle cx="120" cy="333" r="4.5" fill="#7468b8"/><text x="119" y="333" class="s11">mental healthcare</text></g>
<g id="n-mobile-applications"><circle cx="478" cy="333" r="4.5" fill="#7468b8"/><text x="478" y="333" class="s11">mobile applications</text></g>
<g id="n-suicide-prevention"><circle cx="149" cy="389" r="4.5" fill="#7468b8"/><text x="149" y="388" class="s11">suicide prevention</text></g>
<g id="n-feasibility"><circle cx="93" cy="413" r="4.5" fill="#40a0b0"/><text x="92" y="413" class="s11">feasibility</text></g>
<g id="n-acceptability"><circle cx="188" cy="496" r="4.5" fill="#7060b4"/><text x="187" y="496" class="s11">acceptability</text></g>
<g id="n-conversational-artificial-inte"><circle cx="746" cy="504" r="4.5" fill="#3a9ab0"/><text x="746" y="504" class="s11">conversational artificial inte</text></g>
<g id="n-addiction"><circle cx="166" cy="528" r="4.5" fill="#5a80b8"/><text x="165" y="528" class="s11">addiction</text></g>
<g id="n-self-management"><circle cx="261" cy="522" r="4.5" fill="#6e66b8"/><text x="260" y="522" class="s11">self-management</text></g>
<g id="n-mental-disorders"><circle cx="803" cy="545" r="4.5" fill="#e8d830"/><text x="803" y="545" class="s11">mental disorders</text></g>
<g id="n-therapy"><circle cx="700" cy="602" r="4.5" fill="#c8d840"/><text x="700" y="602" class="s11">therapy</text></g>
<g id="n-ethics"><circle cx="569" cy="755" r="4.5" fill="#3a98b0"/><text x="569" y="755" class="s11">ethics</text></g>
<g id="n-health-care"><circle cx="401" cy="820" r="4" fill="#f0dc28"/><text x="401" y="820" class="s11">health care</text></g>
</g>
<g id="legend">
<rect x="930.5" y="839.5" width="316" height="48" rx="9" fill="#fff" stroke="#c8c8c8"/>
<rect x="940.5" y="847.5" width="297" height="16" fill="url(#vir)" stroke="#8a8a8a"/>
<g stroke="#555" stroke-width="1">
<line x1="956" y1="857" x2="956" y2="864"/><line x1="1022" y1="857" x2="1022" y2="864"/><line x1="1089" y1="857" x2="1089" y2="864"/><line x1="1155" y1="857" x2="1155" y2="864"/><line x1="1222" y1="857" x2="1222" y2="864"/>
</g>
<text x="956" y="877" class="lg">2021.0</text><text x="1022" y="877" class="lg">2021.5</text><text x="1089" y="877" class="lg">2022.0</text><text x="1155" y="877" class="lg">2022.5</text><text x="1222" y="877" class="lg">2023.0</text>
</g>
</svg>
